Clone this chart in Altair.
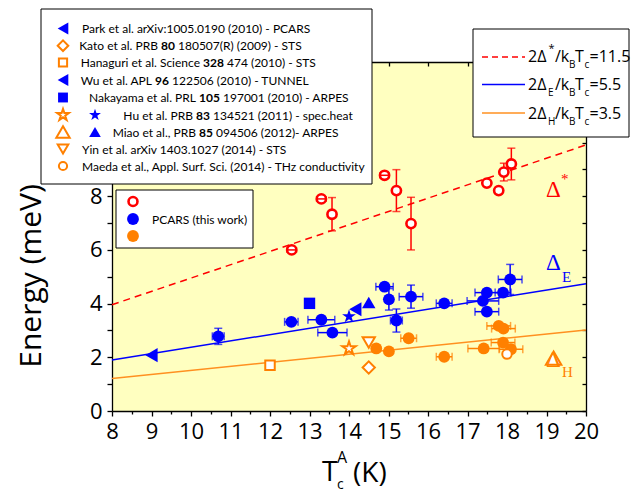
import altair as alt
import pandas as pd

# ---------------- data ----------------
# straight lines 2Δ/kBTc = const, evaluated at the ends of the Tc range
fit_T = [8, 20]
fit_star = [3.96, 9.91]   # 2Δ*/kBTc = 11.5
fit_E = [1.90, 4.74]      # 2ΔE/kBTc = 5.5
fit_H = [1.21, 3.02]      # 2ΔH/kBTc = 3.5

# PCARS (this work) - Δ* (open red circles)
star_T = [12.55, 13.30, 13.57, 14.90, 15.20, 15.57, 17.49, 17.79, 17.92, 18.11]
star_E = [6.00, 7.90, 7.33, 8.78, 8.21, 6.98, 8.49, 8.21, 8.90, 9.20]
star_dE = [0, 0, 0.62, 0, 0.78, 0.98, 0, 0, 0.33, 0.59]
star_dT = [0.12, 0.12, 0, 0.12, 0, 0, 0, 0, 0, 0]

# PCARS - Δ_E (blue filled circles)
e_T = [10.69, 12.54, 13.30, 13.58, 14.90, 15.01, 15.20, 15.57, 16.41, 17.39, 17.49, 17.49, 17.90, 18.08]
e_E = [2.78, 3.32, 3.40, 2.92, 4.63, 4.16, 3.37, 4.26, 4.01, 4.10, 4.41, 3.70, 4.41, 4.90]
e_dT = [0.15, 0.17, 0.34, 0.37, 0.22, 0, 0.15, 0.30, 0.20, 0.40, 0.30, 0.30, 0.20, 0.30]
e_dE = [0.30, 0, 0, 0, 0, 0.40, 0.43, 0.43, 0, 0, 0, 0, 0, 0.56]

# PCARS - Δ_H (orange filled circles)
h_T = [14.69, 15.01, 15.51, 16.41, 17.41, 17.79, 17.91, 17.90, 18.10]
h_E = [2.33, 2.22, 2.71, 2.02, 2.33, 3.17, 3.07, 2.55, 2.30]
h_dT = [0, 0, 0.20, 0.20, 0.40, 0.30, 0.30, 0.30, 0.30]

# literature values
lit_key = ["Park", "Kato", "Hanaguri", "Wu", "Nakayama", "Hu_E", "Hu_H", "Miao_E", "Miao_H", "Yin", "Maeda"]
lit_T = [9.0, 14.5, 12.0, 14.16, 13.0, 14.0, 14.0, 14.5, 19.18, 14.5, 18.0]
lit_E = [2.08, 1.62, 1.70, 3.79, 4.01, 3.52, 2.33, 4.04, 1.97, 2.55, 2.12]

# legend texts
ref_lines = [
    ("Park et al. arXiv:1005.0190 (2010) - PCARS", "", ""),
    ("Kato et al. PRB", "80", "180507(R) (2009) - STS"),
    ("Hanaguri et al. Science", "328", "474 (2010) - STS"),
    ("Wu et al. APL", "96", "122506 (2010) - TUNNEL"),
    ("Nakayama et al. PRL", "105", "197001 (2010) - ARPES"),
    ("Hu et al. PRB", "83", "134521 (2011) - spec.heat"),
    ("Miao et al., PRB", "85", "094506 (2012)- ARPES"),
    ("Yin et al. arXiv 1403.1027 (2014) - STS", "", ""),
    ("Maeda et al., Appl. Surf. Sci. (2014) - THz conductivity", "", ""),
]

# ---------------- layout / style ----------------
X0, Y0, W, H = 112, 62, 474, 349
RED, BLUE, ORANGE, ORANGE_LINE = "#FF0000", "#0000FF", "#FF8000", "#FF9020"
BG = "#FFFFC0"
FONT = "Open Sans"
LFONT = "Lato"
one = pd.DataFrame({"a": [0]})

xs = alt.Scale(domain=[8, 20], nice=False, zero=False)
ys = alt.Scale(domain=[0, 13], nice=False, zero=False)


def X(field):
    return alt.X(field, type="quantitative", scale=xs, axis=None)


def Y(field):
    return alt.Y(field, type="quantitative", scale=ys, axis=None)


def txt(s, px, py, size, color="black", font=FONT, weight="normal", align="left",
        baseline="alphabetic", angle=0):
    return alt.Chart(one).mark_text(
        text=s, align=align, baseline=baseline, font=font, fontSize=size,
        fontWeight=weight, color=color, angle=angle
    ).encode(x=alt.value(px - X0), y=alt.value(py - Y0))


STAR = ("M0,-1L0.2245,-0.309L0.951,-0.309L0.363,0.118L0.588,0.809L0,0.382"
        "L-0.588,0.809L-0.363,0.118L-0.951,-0.309L-0.2245,-0.309Z")

lit_style = {
    "Park": ("triangle-left", BLUE, True, 200),
    "Kato": ("diamond", ORANGE, False, 150),
    "Hanaguri": ("square", ORANGE, False, 90),
    "Wu": ("triangle-left", BLUE, True, 200),
    "Nakayama": ("square", BLUE, True, 130),
    "Hu_E": (STAR, BLUE, True, 210),
    "Hu_H": (STAR, ORANGE, False, 200),
    "Miao_E": ("triangle-up", BLUE, True, 180),
    "Miao_H": ("triangle-up", ORANGE, False, 240),
    "Yin": ("triangle-down", ORANGE, False, 150),
    "Maeda": ("circle", ORANGE, False, 90),
}


def sym_mark(shape, color, filled, size):
    if filled:
        return dict(shape=shape, filled=True, fill=color, color=color, size=size,
                    opacity=1, strokeWidth=0)
    return dict(shape=shape, filled=False, fill="white", color=color, size=size,
                opacity=1, strokeWidth=2, fillOpacity=1)


layers = []

# ---- axes (drawn under marks) ----
axbase = pd.DataFrame({"T": fit_T, "E": fit_star})
common = dict(domainColor="black", tickColor="black", domainWidth=1.3, tickWidth=1.3,
              labelFont=FONT, labelFontSize=22, labelColor="black", title=None,
              grid=False, labelFlush=False, labelOverlap=False)
xvals = [8 + 0.5 * i for i in range(25)]
layers.append(alt.Chart(axbase).mark_point(opacity=0).encode(
    x=alt.X("T:Q", scale=xs, axis=alt.Axis(
        orient="bottom", values=xvals,
        labelExpr="datum.value % 1 === 0 ? format(datum.value, 'd') : ''",
        tickSize={"condition": {"test": "datum.value % 1 !== 0", "value": 3}, "value": 5},
        labelPadding=5, **common)),
    y=alt.Y("E:Q", scale=ys, axis=alt.Axis(
        orient="left", values=list(range(0, 14)),
        labelExpr="(datum.value % 2 === 0 && datum.value <= 8) ? format(datum.value, 'd') : ''",
        tickSize=5, labelPadding=5, **common)),
))
blank = dict(domainColor="black", tickColor="black", domainWidth=1.3, tickWidth=1.3,
             labels=False, title=None, grid=False)
layers.append(alt.Chart(axbase).mark_point(opacity=0).encode(
    x=alt.X("T:Q", scale=xs, axis=alt.Axis(orient="top", ticks=False, **blank)),
    y=alt.Y("E:Q", scale=ys, axis=alt.Axis(orient="right", ticks=False, **blank)),
))
layers.append(alt.Chart(axbase).mark_point(opacity=0).encode(
    x=alt.X("T:Q", scale=xs, axis=alt.Axis(orient="top", domain=False, offset=-4, tickSize=4,
                                           values=list(range(8, 21)), **blank)),
    y=alt.Y("E:Q", scale=ys, axis=alt.Axis(orient="right", domain=False, offset=-4, tickSize=4,
                                           values=list(range(0, 14)), **blank)),
))

# ---- fit lines ----
fit_df = pd.DataFrame({"T": fit_T, "star": fit_star, "E": fit_E, "H": fit_H})
layers.append(alt.Chart(fit_df).mark_line(color=RED, strokeWidth=1.5, strokeDash=[7, 5]).encode(
    x=X("T"), y=Y("star")))
layers.append(alt.Chart(fit_df).mark_line(color=BLUE, strokeWidth=1.5).encode(x=X("T"), y=Y("E")))
layers.append(alt.Chart(fit_df).mark_line(color=ORANGE_LINE, strokeWidth=1.5).encode(x=X("T"), y=Y("H")))


def errbars(T, E, dT, dE, color, cap=8):
    out = []
    if dE is not None:
        d = pd.DataFrame({"T": T, "E": E, "d": dE})
        d = d[d["d"] > 0].copy()
        d["lo"] = d["E"] - d["d"]
        d["hi"] = d["E"] + d["d"]
        out.append(alt.Chart(d).mark_rule(color=color, strokeWidth=1.5).encode(
            x=X("T"), y=Y("lo"), y2="hi"))
        c = pd.concat([d[["T", "lo"]].rename(columns={"lo": "v"}),
                       d[["T", "hi"]].rename(columns={"hi": "v"})])
        out.append(alt.Chart(c).mark_tick(color=color, orient="horizontal", size=cap, thickness=1.5).encode(
            x=X("T"), y=Y("v")))
    if dT is not None:
        d = pd.DataFrame({"T": T, "E": E, "d": dT})
        d = d[d["d"] > 0].copy()
        d["lo"] = d["T"] - d["d"]
        d["hi"] = d["T"] + d["d"]
        out.append(alt.Chart(d).mark_rule(color=color, strokeWidth=1.5).encode(
            x=X("lo"), x2="hi", y=Y("E")))
        c = pd.concat([d[["E", "lo"]].rename(columns={"lo": "v"}),
                       d[["E", "hi"]].rename(columns={"hi": "v"})])
        out.append(alt.Chart(c).mark_tick(color=color, orient="vertical", size=cap, thickness=1.5).encode(
            x=X("v"), y=Y("E")))
    return out


# ---- data points ----
layers += errbars(h_T, h_E, h_dT, None, ORANGE)
layers.append(alt.Chart(pd.DataFrame({"T": h_T, "E": h_E})).mark_point(
    **sym_mark("circle", ORANGE, True, 140)).encode(x=X("T"), y=Y("E")))
layers += errbars(e_T, e_E, e_dT, e_dE, BLUE)
layers.append(alt.Chart(pd.DataFrame({"T": e_T, "E": e_E})).mark_point(
    **sym_mark("circle", BLUE, True, 140)).encode(x=X("T"), y=Y("E")))
layers += errbars(star_T, star_E, None, star_dE, RED)
layers.append(alt.Chart(pd.DataFrame({"T": star_T, "E": star_E})).mark_point(
    shape="circle", filled=False, fill="white", fillOpacity=1, color=RED, size=85,
    strokeWidth=2.6, opacity=1).encode(x=X("T"), y=Y("E")))
layers += errbars(star_T, star_E, star_dT, None, RED, cap=6)

lit_df = pd.DataFrame({"key": lit_key, "T": lit_T, "E": lit_E})
for k in lit_key:
    shape, col, filled, size = lit_style[k]
    layers.append(alt.Chart(lit_df[lit_df["key"] == k]).mark_point(
        **sym_mark(shape, col, filled, size)).encode(x=X("T"), y=Y("E")))

# ---- Δ annotations ----
SERIF = "Liberation Serif"
layers += [
    txt("Δ", 546, 197, 23, RED, SERIF), txt("*", 561, 184, 15, RED, SERIF),
    txt("Δ", 546, 270, 23, BLUE, SERIF), txt("E", 562, 282, 15, BLUE, SERIF),
    txt("Δ", 546, 367, 23, ORANGE, SERIF), txt("H", 562, 377, 15, ORANGE, SERIF),
]

# ---- axis titles ----
layers += [
    txt("Energy  (meV)", 41, 276, 30, angle=270, align="center"),
    txt("T", 322, 481, 28), txt("c", 337, 489, 14), txt("A", 337, 463, 16),
    txt("(K)", 353, 482, 28),
]


def box(x1, y1, x2, y2):
    return alt.Chart(one).mark_rect(fill="white", stroke="black", strokeWidth=1).encode(
        x=alt.value(x1 - X0), x2=alt.value(x2 - X0), y=alt.value(y1 - Y0), y2=alt.value(y2 - Y0))


def lsym(px, py, key, scale=0.75):
    shape, col, filled, size = lit_style[key]
    return alt.Chart(one).mark_point(**sym_mark(shape, col, filled, size * scale)).encode(
        x=alt.value(px - X0), y=alt.value(py - Y0))


# ---- reference legend (top-left) ----
layers.append(box(41, 9, 372, 184))
row_y = [28.5, 45.7, 62.5, 80, 97.5, 115, 132, 149, 166]
row_x = [82, 82, 82, 82, 82, 113, 113, 82, 82]
bold_x = [None, 161, 203, 155, 199, 196, 199, None, None]
row_syms = [["Park"], ["Kato"], ["Hanaguri"], ["Wu"], ["Nakayama"], ["Hu_H", "Hu_E"],
            ["Miao_H", "Miao_E"], ["Yin"], ["Maeda"]]
LSZ = 12
for i, (pre, bold, suf) in enumerate(ref_lines):
    yy = row_y[i] + 4.5
    if bold_x[i] is None:
        layers.append(txt(pre, row_x[i], yy, LSZ, font=LFONT))
    else:
        b0 = bold_x[i]
        layers.append(txt(pre, b0 - 3, yy, LSZ, font=LFONT, align="right"))
        layers.append(txt(bold, b0, yy, LSZ, font=LFONT, weight="bold"))
        layers.append(txt(suf, b0 + 7 * len(bold) + 3, yy, LSZ, font=LFONT))
    for j, k in enumerate(row_syms[i]):
        layers.append(lsym(63 + 32 * j, row_y[i], k))

# ---- line legend (top-right) ----
layers.append(box(473, 29, 629, 137))
for yl, col, dash in [(57, RED, [6, 4]), (84.5, BLUE, None), (113, ORANGE_LINE, None)]:
    kw = dict(color=col, strokeWidth=1.5)
    if dash:
        kw["strokeDash"] = dash
    layers.append(alt.Chart(one).mark_rule(**kw).encode(
        x=alt.value(482 - X0), x2=alt.value(525 - X0), y=alt.value(yl - Y0)))
LS, SS = 16, 10
for (yb, sub, val) in [(62, None, "=11.5"), (90, "E", "=5.5"), (119, "H", "=3.5")]:
    layers.append(txt("2Δ", 528, yb, LS))
    if sub is None:
        layers.append(txt("*", 548.5, yb - 10, 11))
    else:
        layers.append(txt(sub, 548, yb + 5.5, SS))
    layers += [
        txt("/k", 555, yb, LS), txt("B", 569, yb + 5.5, SS), txt("T", 575, yb, LS),
        txt("c", 584.5, yb + 5.5, SS), txt(val, 589.5, yb, LS),
    ]

# ---- PCARS legend (inside plot) ----
layers.append(box(116, 190, 253, 248))
layers.append(alt.Chart(one).mark_point(shape="circle", filled=False, fill="white", fillOpacity=1,
                                        color=RED, size=80, strokeWidth=2.6, opacity=1).encode(
    x=alt.value(133 - X0), y=alt.value(201.5 - Y0)))
layers.append(alt.Chart(one).mark_point(**sym_mark("circle", BLUE, True, 140)).encode(
    x=alt.value(133 - X0), y=alt.value(219 - Y0)))
layers.append(alt.Chart(one).mark_point(**sym_mark("circle", ORANGE, True, 140)).encode(
    x=alt.value(133 - X0), y=alt.value(236 - Y0)))
layers.append(txt("PCARS (this work)", 152, 224, 12, font=LFONT))

chart = alt.layer(*layers).resolve_axis(x="independent", y="independent").properties(
    width=W, height=H,
    padding={"left": X0, "top": Y0, "right": 633 - X0 - W, "bottom": 493 - Y0 - H},
    autosize=alt.AutoSizeParams(type="none"),
    background="white",
).configure_view(stroke=None, fill=BG)

chart.save("out.html", embed_options={"renderer": "svg", "actions": False})
